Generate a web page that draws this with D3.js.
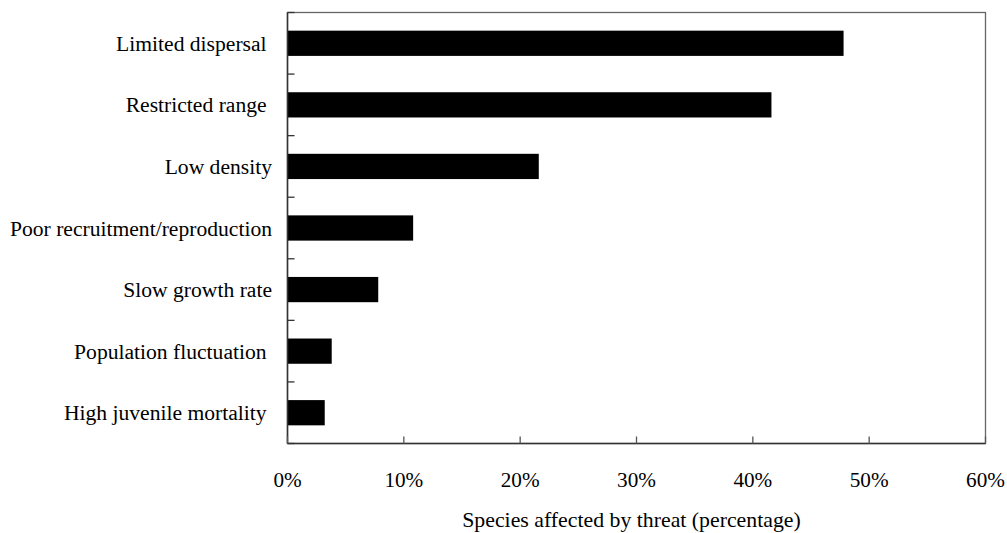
<!DOCTYPE html>
<html><head><meta charset="utf-8">
<script src="https://cdn.jsdelivr.net/npm/d3@7"></script>
<style>body{margin:0;background:#fff}</style>
</head><body>
<svg id="c" width="1007" height="533"></svg>
<script>
const categories = ["Limited dispersal ","Restricted range ","Low density","Poor recruitment/reproduction","Slow growth rate","Population fluctuation ","High juvenile mortality "];
const values = [47.8, 41.6, 21.6, 10.8, 7.8, 3.8, 3.2];
const xTicks = [0,10,20,30,40,50,60];
const xTitle = "Species affected by threat (percentage)";

const FONT = "'Liberation Serif', Tinos, 'Times New Roman', 'DejaVu Serif', serif";
const L=287.5, R=985.5, T=12.5, B=443.5;
const svg=d3.select("#c").attr("font-family",FONT).style("white-space","pre");
const x=d3.scaleLinear().domain([0,60]).range([L,R]);
const y=d3.scaleBand().domain(categories).range([T,B]).paddingInner(0.59).paddingOuter(0.295);
const yb=d3.scaleLinear().domain([0,categories.length]).range([T,B]);

svg.append("rect").attr("x",L).attr("y",T).attr("width",R-L).attr("height",B-T)
  .attr("fill","none").attr("stroke","#666").attr("stroke-width",1.3);

svg.selectAll("rect.bar").data(values).enter().append("rect").attr("class","bar")
  .attr("x",x(0)).attr("y",(d,i)=>y(categories[i]))
  .attr("width",d=>x(d)-x(0)).attr("height",y.bandwidth()).attr("fill","#000");

svg.append("line").attr("x1",L).attr("x2",L).attr("y1",T).attr("y2",B).attr("stroke","#333").attr("stroke-width",1.5);
d3.range(categories.length+1).forEach(i=>{
  svg.append("line").attr("x1",L).attr("x2",L+7).attr("y1",yb(i)).attr("y2",yb(i)).attr("stroke","#333").attr("stroke-width",1.3);
});
svg.selectAll("text.cat").data(categories).enter().append("text").attr("class","cat")
  .attr("font-family",FONT).attr("xml:space","preserve")
  .attr("x",272).attr("y",d=>y(d)+y.bandwidth()/2).attr("dy","0.35em")
  .attr("text-anchor","end").attr("font-size",21.6).attr("fill","#000").text(d=>d);

svg.append("line").attr("x1",L).attr("x2",R).attr("y1",B).attr("y2",B).attr("stroke","#333").attr("stroke-width",1.5);
xTicks.forEach(t=>{
  svg.append("line").attr("x1",x(t)).attr("x2",x(t)).attr("y1",B).attr("y2",B-7).attr("stroke","#555").attr("stroke-width",1.3);
});
svg.selectAll("text.xt").data(xTicks).enter().append("text").attr("class","xt")
  .attr("font-family",FONT)
  .attr("x",d=>x(d)).attr("y",487).attr("text-anchor","middle").attr("font-size",21.2).attr("fill","#000").text(d=>d+"%");
svg.append("text").attr("font-family",FONT).attr("x",(L+R)/2-5).attr("y",527).attr("text-anchor","middle").attr("font-size",21.8).attr("fill","#000").text(xTitle);
</script>
</body></html>
